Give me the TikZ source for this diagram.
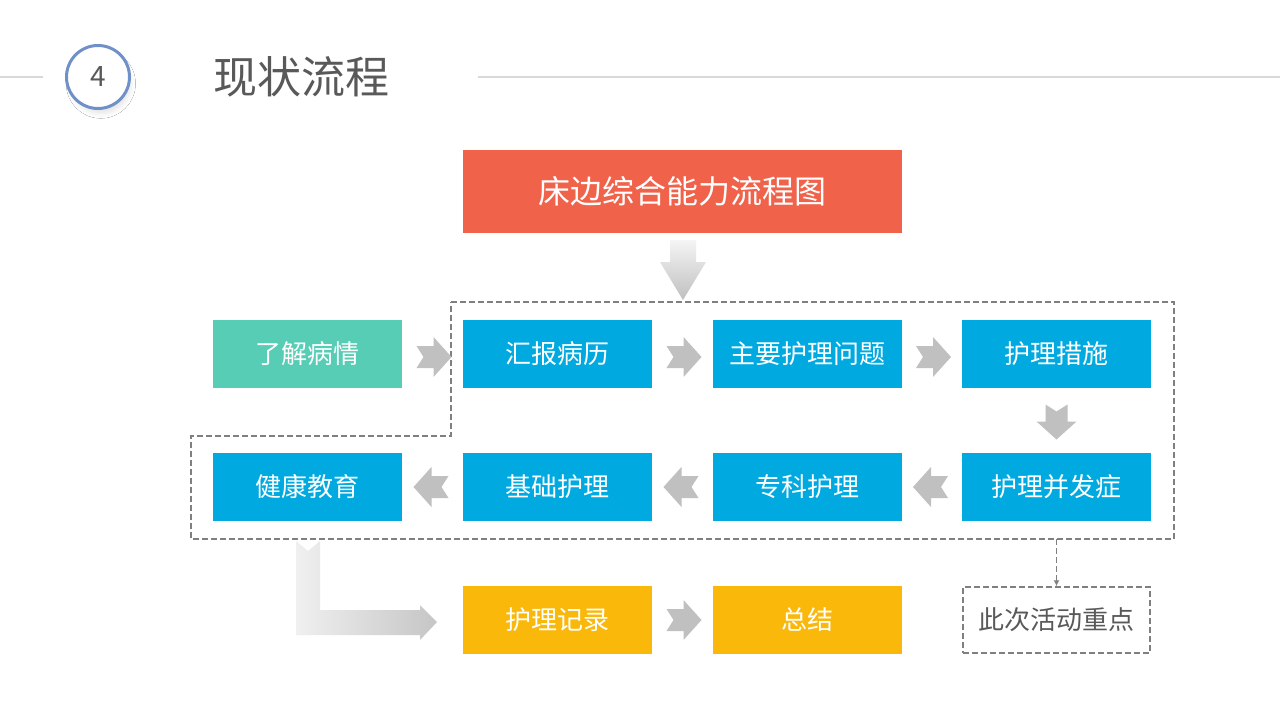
\documentclass[tikz,border=0pt]{standalone}
\usepackage{fontspec}
\setmainfont{Noto Sans CJK SC}
\usetikzlibrary{calc,arrows.meta,shadows.blur}
\definecolor{titlered}{RGB}{240,98,74}
\definecolor{stepblue}{RGB}{0,170,224}
\definecolor{stepgreen}{RGB}{88,205,181}
\definecolor{steporange}{RGB}{250,184,10}
\definecolor{chevgray}{RGB}{192,192,192}
\definecolor{textgray}{RGB}{89,89,89}
\definecolor{linegray}{RGB}{217,217,217}
\definecolor{circblue}{RGB}{112,144,200}
\definecolor{dashgray}{RGB}{128,128,128}

\begin{document}
\begin{tikzpicture}[x=1pt,y=-1pt,
  box/.style={minimum width=189pt,minimum height=68pt,inner sep=0pt,text=white,font=\fontsize{26}{30}\selectfont},
  dashline/.style={draw=dashgray,line width=1.5pt,dash pattern=on 6pt off 3pt},
  chev/.pic={\fill[chevgray] (-16,-11) -- (1,-11) -- (1,-20) -- (19,0) -- (1,20) -- (1,11) -- (-16,11) -- (-9,0) -- cycle;}]
  \useasboundingbox[fill=white] (0,0) rectangle (1280,720);
  % header
  \draw [linegray,line width=2pt] (0,77) -- (43,77);
  \draw [linegray,line width=2pt] (478,77) -- (1280,77);
  \node [circle,draw=circblue,line width=3pt,fill=white,minimum size=63pt,text=textgray,
    font=\fontsize{28}{30}\selectfont,blur shadow={shadow xshift=3pt,shadow yshift=-7pt,shadow opacity=10,shadow blur radius=5pt,shadow scale=0.95}] (num) at (98,77) {4};
  \node [anchor=west,text=textgray,inner sep=0pt,font=\fontsize{44}{50}\selectfont] (title) at (213,77) {现状流程};
  % boxes
  \node [box,fill=titlered,minimum width=439pt,minimum height=83pt,font=\fontsize{32}{36}\selectfont] (flow) at (682.5,191.5) {床边综合能力流程图};
  \node [box,fill=stepgreen] (know) at (307.5,354) {了解病情};
  \node [box,fill=stepblue] (report) at (557.5,354) {汇报病历};
  \node [box,fill=stepblue] (issue) at (807.5,354) {主要护理问题};
  \node [box,fill=stepblue] (measure) at (1056.5,354) {护理措施};
  \node [box,fill=stepblue] (health) at (307.5,487) {健康教育};
  \node [box,fill=stepblue] (basic) at (557.5,487) {基础护理};
  \node [box,fill=stepblue] (special) at (807.5,487) {专科护理};
  \node [box,fill=stepblue] (complic) at (1056.5,487) {护理并发症};
  \node [box,fill=steporange] (record) at (557.5,620) {护理记录};
  \node [box,fill=steporange] (summary) at (807.5,620) {总结};
  \node [box,dashline,text=textgray,minimum width=187pt,minimum height=66pt] (focus) at (1056.5,620) {此次活动重点};
  % dashed region
  \draw [dashline] (451,302) -- (1174,302) -- (1174,539) -- (191,539) -- (191,436) -- (451,436) -- cycle;
  \coordinate (fork) at (focus.north |- 0,539);
  \draw [dashline,-{Latex[length=6pt,width=6pt]}] (fork) -- (focus.north);
  % arrows
  \shade [top color=gray!8,bottom color=gray!50] (670,240) -- (696,240) -- (696,262) -- (706,262) -- (683,300) -- (660,262) -- (670,262) -- cycle;
  \shade [left color=gray!12,right color=gray!45] (296,541) -- (308,551) -- (320,541) -- (320,610) -- (420,610) -- (420,605) -- (437,622) -- (420,640) -- (420,635) -- (296,635) -- cycle;
  \pic at ($(know.east)!0.5!(report.west)+(0,3)$) {chev};
  \pic at ($(report.east)!0.5!(issue.west)+(0,3)$) {chev};
  \pic at ($(issue.east)!0.5!(measure.west)+(0,3)$) {chev};
  \pic [rotate=-90] at ($(measure.south)!0.5!(complic.north)$) {chev};
  \pic [rotate=180] at ($(complic.west)!0.5!(special.east)$) {chev};
  \pic [rotate=180] at ($(special.west)!0.5!(basic.east)$) {chev};
  \pic [rotate=180] at ($(basic.west)!0.5!(health.east)$) {chev};
  \pic at ($(record.east)!0.5!(summary.west)$) {chev};
\end{tikzpicture}
\end{document}
